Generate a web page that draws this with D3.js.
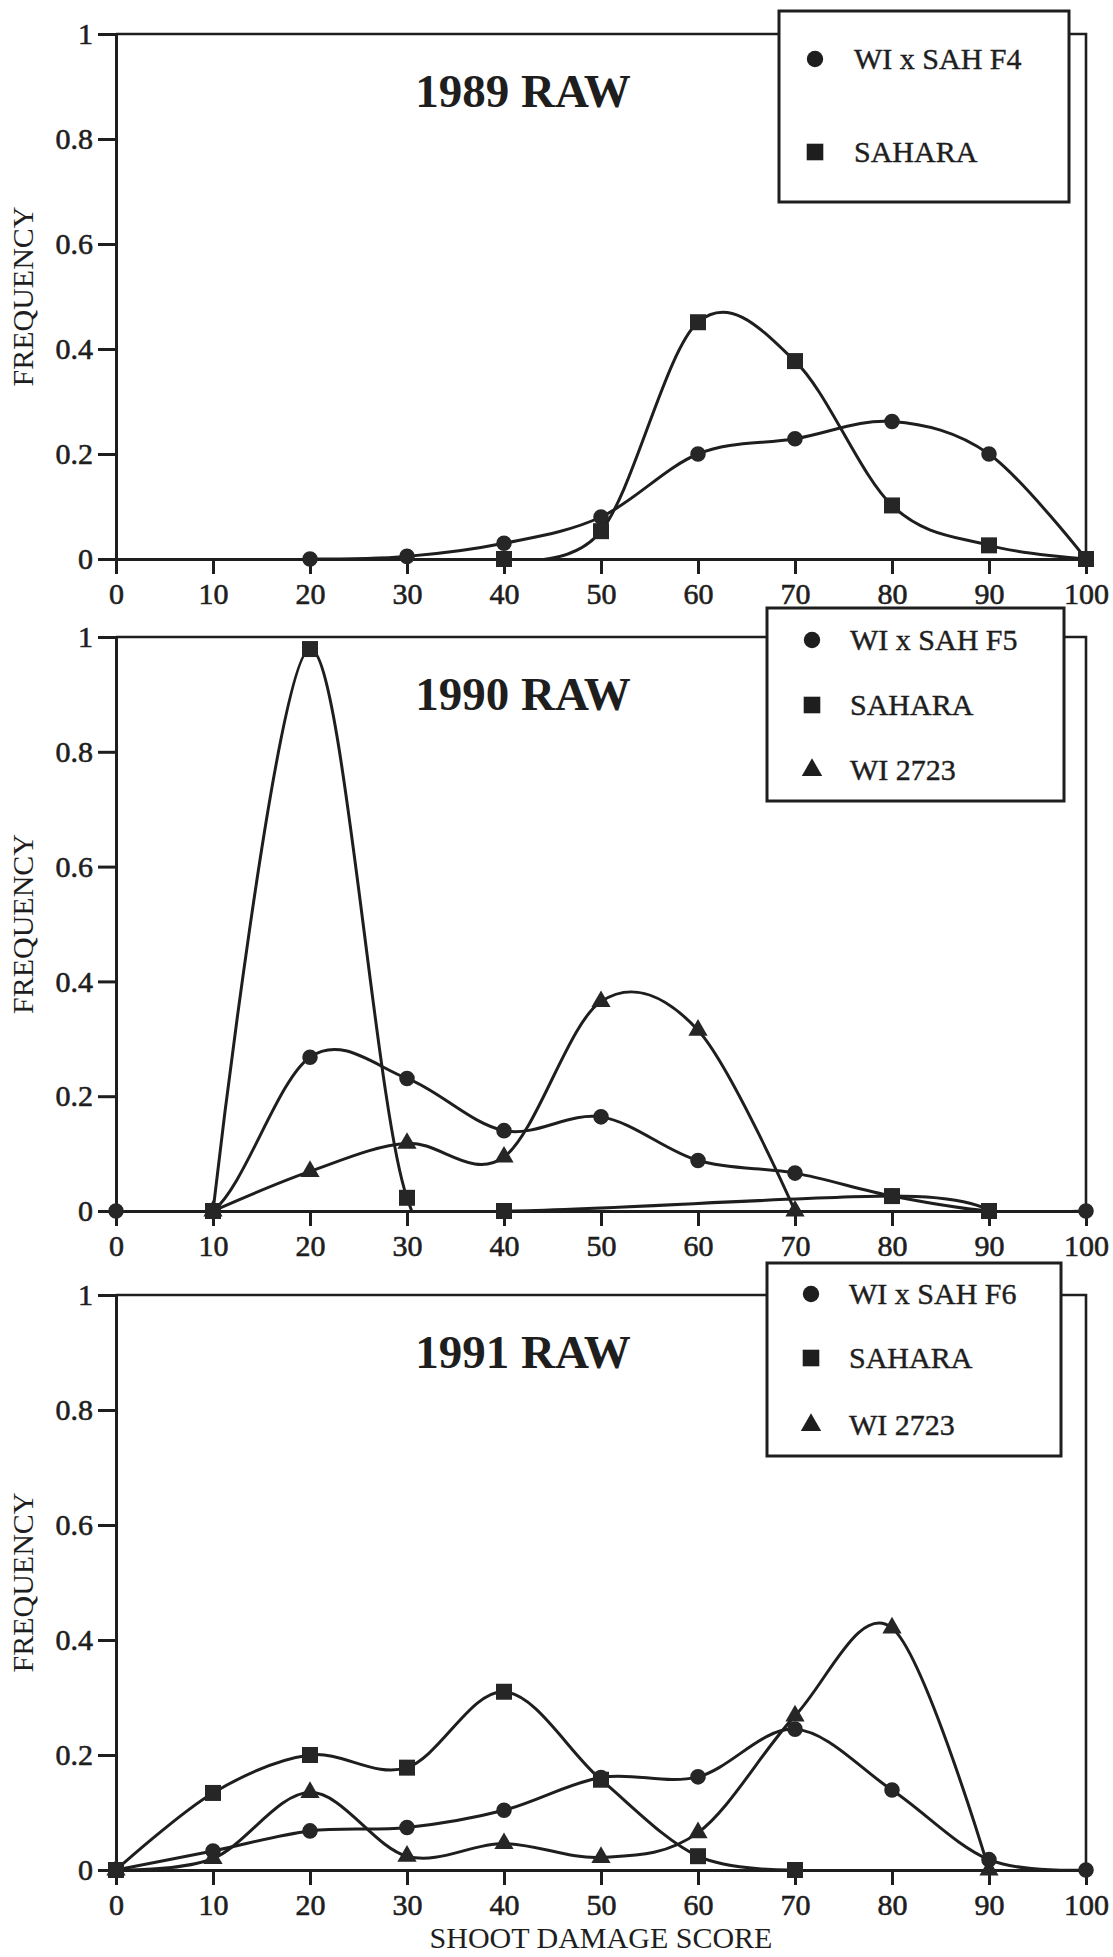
<!DOCTYPE html>
<html>
<head>
<meta charset="utf-8">
<title>Shoot damage score frequencies, 1989-1991 raw</title>
<script src="https://cdn.jsdelivr.net/npm/d3@7"></script>
<style>
  body { margin: 0; background: #fff; }
  svg { display: block; }
  text { font-family: "Liberation Serif", "Times New Roman", serif; fill: #1e1e1e; }
  .axis path, .axis line { stroke: #1e1e1e; stroke-width: 3; }
  .axis text { font-family: "Liberation Serif", "Times New Roman", serif; font-size: 30px; fill: #1e1e1e; stroke: #1e1e1e; stroke-width: 0.6; }
  .frame { stroke: #1e1e1e; stroke-width: 2.6; fill: none; }
  .series { fill: none; stroke: #1e1e1e; stroke-width: 3; }
  .legend-box { fill: #fff; stroke: #1e1e1e; stroke-width: 3; }
  .legend-text { font-size: 30px; stroke: #1e1e1e; stroke-width: 0.4; }
</style>
</head>
<body>
<script>
// x axis ticks (shoot damage score) and y axis ticks (frequency)
var scoreTicks = [0, 10, 20, 30, 40, 50, 60, 70, 80, 90, 100];
var freqTicks = [0, 0.2, 0.4, 0.6, 0.8, 1];

// 1989
var wiSahF4Scores = [20, 30, 40, 50, 60, 70, 80, 90, 100];
var wiSahF4Freq   = [0, 0.005, 0.03, 0.08, 0.2, 0.229, 0.262, 0.2, 0];
var sahara89Scores = [40, 50, 60, 70, 80, 90, 100];
var sahara89Freq   = [0, 0.053, 0.451, 0.377, 0.102, 0.026, 0];

// 1990
var wiSahF5Scores = [0, 10, 20, 30, 40, 50, 60, 70, 80, 90, 100];
var wiSahF5Freq   = [0, 0, 0.268, 0.231, 0.14, 0.164, 0.088, 0.066, 0.026, 0, 0];
var sahara90Scores = [10, 20, 30, 40, 80, 90];
var sahara90Freq   = [0, 0.979, 0.023, 0, 0.026, 0];
var wi2723_90Scores = [10, 20, 30, 40, 50, 60, 70];
var wi2723_90Freq   = [0, 0.069, 0.118, 0.094, 0.365, 0.315, 0];

// 1991
var wiSahF6Scores = [0, 10, 20, 30, 40, 50, 60, 70, 80, 90, 100];
var wiSahF6Freq   = [0, 0.033, 0.068, 0.074, 0.104, 0.161, 0.162, 0.245, 0.139, 0.018, 0];
var sahara91Scores = [0, 10, 20, 30, 40, 50, 60, 70];
var sahara91Freq   = [0, 0.134, 0.2, 0.178, 0.31, 0.157, 0.024, 0];
var wi2723_91Scores = [0, 10, 20, 30, 40, 50, 60, 70, 80, 90];
var wi2723_91Freq   = [0, 0.02, 0.135, 0.024, 0.046, 0.022, 0.065, 0.268, 0.421, 0];

function pairs(xs, ys) {
  return xs.map(function(x, i) { return {score: x, freq: ys[i]}; });
}

var panels = [
  {title: "1989 RAW", top: 34, bottom: 559,
   legend: {x: 779, y: 11, w: 290, h: 191, rows: [59, 152], mx: 815, tx: 854},
   series: [
     {name: "WI x SAH F4", shape: "circle", data: pairs(wiSahF4Scores, wiSahF4Freq)},
     {name: "SAHARA", shape: "square", data: pairs(sahara89Scores, sahara89Freq)}
   ]},
  {title: "1990 RAW", top: 637, bottom: 1211,
   legend: {x: 767, y: 608, w: 297, h: 193, rows: [640, 705, 770], mx: 812, tx: 850},
   series: [
     {name: "WI x SAH F5", shape: "circle", data: pairs(wiSahF5Scores, wiSahF5Freq)},
     {name: "SAHARA", shape: "square", data: pairs(sahara90Scores, sahara90Freq)},
     {name: "WI 2723", shape: "triangle", data: pairs(wi2723_90Scores, wi2723_90Freq)}
   ]},
  {title: "1991 RAW", top: 1295, bottom: 1870,
   legend: {x: 767, y: 1263, w: 294, h: 193, rows: [1294, 1358, 1425], mx: 811, tx: 849},
   series: [
     {name: "WI x SAH F6", shape: "circle", data: pairs(wiSahF6Scores, wiSahF6Freq)},
     {name: "SAHARA", shape: "square", data: pairs(sahara91Scores, sahara91Freq)},
     {name: "WI 2723", shape: "triangle", data: pairs(wi2723_91Scores, wi2723_91Freq)}
   ]}
];

var width = 1113, height = 1957;
var left = 116, right = 1086;

var svg = d3.select("body").append("svg")
    .attr("width", width)
    .attr("height", height);

var shapes = {circle: d3.symbolCircle, square: d3.symbolSquare, triangle: d3.symbolTriangle};
var markSize = {circle: 190, square: 256, triangle: 160};

var x = d3.scaleLinear().domain([0, 100]).range([left, right]);

panels.forEach(function(p, pi) {
  var y = d3.scaleLinear().domain([0, 1]).range([p.bottom, p.top]);
  var g = svg.append("g");

  // clip so the spline undershoot below zero is hidden
  var clipId = "clip" + pi;
  g.append("clipPath").attr("id", clipId)
    .append("rect")
      .attr("x", left - 20).attr("y", p.top - 40)
      .attr("width", right - left + 40)
      .attr("height", p.bottom - p.top + 40);

  // frame: top and right
  g.append("path").attr("class", "frame")
    .attr("d", "M" + left + "," + y(1) + "H" + x(100) + "V" + y(0));

  var line = d3.line()
      .x(function(d) { return x(d.score); })
      .y(function(d) { return y(d.freq); })
      .curve(d3.curveCatmullRom.alpha(0));

  p.series.forEach(function(s) {
    g.append("path")
      .attr("class", "series")
      .attr("clip-path", "url(#" + clipId + ")")
      .attr("d", line(s.data));
  });

  // axes
  g.append("g").attr("class", "axis")
    .attr("transform", "translate(0," + p.bottom + ")")
    .call(d3.axisBottom(x).tickValues(scoreTicks).tickSize(15).tickSizeOuter(0).tickPadding(9))
    .attr("font-family", null);

  g.append("g").attr("class", "axis")
    .attr("transform", "translate(" + left + ",0)")
    .call(d3.axisLeft(y).tickValues(freqTicks).tickSize(18).tickSizeOuter(0).tickPadding(5)
      .tickFormat(function(d) { return String(d); }))
    .attr("font-family", null);

  // markers
  p.series.forEach(function(s) {
    g.selectAll(null)
      .data(s.data)
      .enter().append("path")
        .attr("transform", function(d) { return "translate(" + x(d.score) + "," + y(d.freq) + ")"; })
        .attr("d", d3.symbol().type(shapes[s.shape]).size(markSize[s.shape]))
        .attr("fill", "#262626");
  });

  // title
  g.append("text")
    .attr("x", 523)
    .attr("y", p.top + 73)
    .attr("text-anchor", "middle")
    .style("font-size", "47px")
    .style("font-weight", "bold")
    .text(p.title);

  // y label
  g.append("text")
    .attr("transform", "translate(33," + ((p.top + p.bottom) / 2) + ") rotate(-90)")
    .attr("text-anchor", "middle")
    .style("font-size", "30px")
    .text("FREQUENCY");

  // legend
  var L = p.legend;
  g.append("rect").attr("class", "legend-box")
    .attr("x", L.x).attr("y", L.y).attr("width", L.w).attr("height", L.h);
  p.series.forEach(function(s, i) {
    g.append("path")
      .attr("transform", "translate(" + L.mx + "," + L.rows[i] + ")")
      .attr("d", d3.symbol().type(shapes[s.shape]).size(markSize[s.shape] + 20))
      .attr("fill", "#1e1e1e");
    g.append("text")
      .attr("class", "legend-text")
      .attr("x", L.tx)
      .attr("y", L.rows[i] + 10)
      .text(s.name);
  });
});

// bottom x label
svg.append("text")
  .attr("x", (left + right) / 2)
  .attr("y", 1948)
  .attr("text-anchor", "middle")
  .style("font-size", "30px")
  .text("SHOOT DAMAGE SCORE");
</script>
</body>
</html>
